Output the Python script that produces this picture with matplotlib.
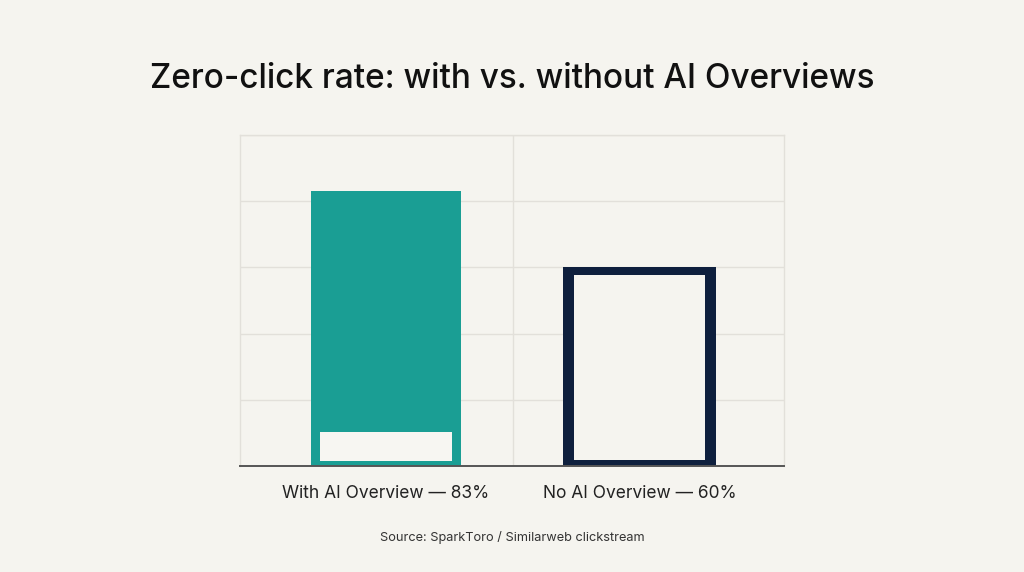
"""Zero-click rate bar chart: searches with vs. without AI Overviews."""
import matplotlib
matplotlib.use("Agg")
import matplotlib.pyplot as plt

categories = ["With AI Overview", "No AI Overview"]
values = [83, 60]
tick_labels = [f"{c} \u2014 {v}%" for c, v in zip(categories, values)]

BG = "#f5f4ef"
TEAL = "#1a9e94"
NAVY = "#0e1f3d"
GRID = "#e2e0da"

plt.rcParams["font.family"] = ["Inter", "DejaVu Sans"]

fig = plt.figure(figsize=(10.24, 5.72), dpi=100, facecolor=BG)
ax = fig.add_axes([0.2344, 0.1853, 0.5312, 0.5787], facecolor=BG)

x = [0, 1]
# teal filled bar with a pale inset label block at its foot
ax.bar(x[0], values[0], width=0.592, color=TEAL, zorder=3)
ax.bar(x[0], 8.7, bottom=1.6, width=0.52, color="#f7f6f2", zorder=4)
# navy outlined bar (outline drawn inside the value box)
ax.bar(x[1], values[1], width=0.604, color=NAVY, zorder=3)
ax.bar(x[1], values[1] - 2.2 - 1.8, bottom=1.8, width=0.52, color=BG, zorder=4)

ax.set_xlim(-0.576, 1.57)
ax.set_ylim(0, 100)
ax.set_yticks([0, 20, 40, 60, 80, 100])
ax.set_xticks([0.5], minor=True)
ax.grid(axis="y", color=GRID, lw=1.0, zorder=0)
ax.grid(axis="x", which="minor", color=GRID, lw=1.0, zorder=0)
ax.tick_params(axis="y", length=0, labelleft=False)
ax.tick_params(axis="x", which="both", length=0, pad=14)
ax.set_xticks(x)
ax.set_xticklabels(tick_labels, fontsize=12.5, color="#222222")

for side in ["left", "right", "top"]:
    ax.spines[side].set_color(GRID)
    ax.spines[side].set_linewidth(1.0)
ax.spines["bottom"].set_color("#555555")
ax.spines["bottom"].set_linewidth(1.4)
ax.spines["bottom"].set_zorder(5)

fig.text(0.5, 0.862, "Zero-click rate: with vs. without AI Overviews",
         ha="center", va="center", fontsize=24, fontweight="medium",
         color="#111111")
fig.text(0.5, 0.061, "Source: SparkToro / Similarweb clickstream",
         ha="center", va="center", fontsize=9.2, color="#333333")

fig.savefig("out.png", dpi=100, facecolor=BG)
